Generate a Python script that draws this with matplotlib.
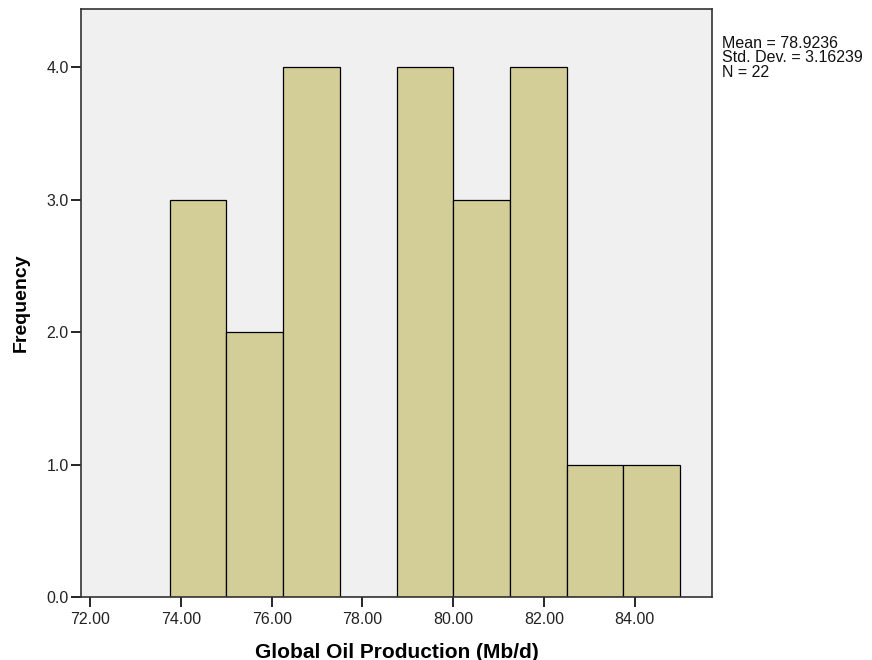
import matplotlib
matplotlib.use("Agg")
import matplotlib.pyplot as plt

# Data
bin_edges = [73.75, 75.0, 76.25, 77.5, 78.75, 80.0, 81.25, 82.5, 83.75, 85.0]
counts = [3, 2, 4, 0, 4, 3, 4, 1, 1]
x_ticks = [72, 74, 76, 78, 80, 82, 84]
y_ticks = [0, 1, 2, 3, 4]
stats_lines = ["Mean = 78.9236", "Std. Dev. = 3.16239", "N = 22"]

plt.rcParams['font.family'] = ['Liberation Sans', 'DejaVu Sans']

fig = plt.figure(figsize=(8.72, 6.6), dpi=100)
ax = fig.add_axes([81/872, 1 - 597/660, (712 - 81)/872, (597 - 9)/660])
ax.set_facecolor('#f0f0f0')

lefts = bin_edges[:-1]
widths = [b - a for a, b in zip(bin_edges[:-1], bin_edges[1:])]
ax.bar(lefts, counts, width=widths, align='edge', color='#d3ce98',
       edgecolor='black', linewidth=0.9)

ax.set_xlim(71.80, 85.70)
ax.set_ylim(0, 4.44)
ax.set_xticks(x_ticks)
ax.set_xticklabels([f"{v:.2f}" for v in x_ticks], fontsize=11.5, color='#222222')
ax.set_yticks(y_ticks)
ax.set_yticklabels([f"{v:.1f}" for v in y_ticks], fontsize=11.5, color='#222222')
ax.tick_params(axis='x', direction='out', length=7, width=1.2, pad=4)
ax.tick_params(axis='y', direction='out', length=7, width=1.2, pad=2)

for s in ax.spines.values():
    s.set_linewidth(1.2)
    s.set_color('#333333')

ax.set_xlabel("Global Oil Production (Mb/d)", fontsize=15, fontweight='bold', labelpad=11)
ax.set_ylabel("Frequency", fontsize=14, fontweight='bold', labelpad=12)

fig.text(722/872, 1 - 36/660, "\n".join(stats_lines), fontsize=11.5,
         va='top', ha='left', linespacing=0.95, color='#111111')

fig.savefig("out.png", dpi=100)
